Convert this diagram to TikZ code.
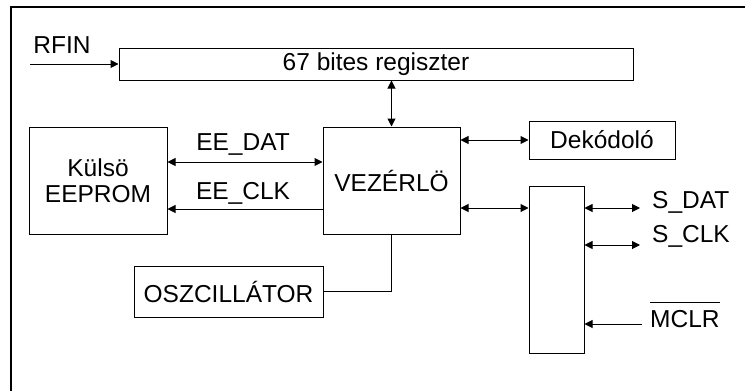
\documentclass[tikz,border=0pt]{standalone}
\usepackage{fontspec}
\setmainfont{Liberation Sans}
\usetikzlibrary{arrows.meta,positioning,calc}

\tikzset{
  box/.style={draw, line width=1pt, inner sep=0pt, align=center},
  arr/.style={line width=1pt, -{Triangle[length=8pt,width=8pt]}},
  dbl/.style={line width=1pt, {Triangle[length=8pt,width=8pt]}-{Triangle[length=8pt,width=8pt]}},
  lbl/.style={inner sep=0pt}
}

\begin{document}
\begin{tikzpicture}[x=1pt, y=-1pt, font=\fontsize{24.5}{28}\selectfont]
      \useasboundingbox (0,0) rectangle (745,391);
      % frame
      \draw[line width=1.2pt] (11,391) -- (11,7) -- (745,7);

      % blocks
      \node[box, minimum width=514pt, minimum height=32pt] (reg) at (376,64) {67 bites regiszter};
      \node[box, minimum width=138pt, minimum height=107pt] (eeprom) at (98,180.5) {Külsö\\[-2pt]EEPROM};
      \node[box, minimum width=137pt, minimum height=107pt] (vez) at (391.5,180.5) {VEZÉRLÖ};
      \node[box, minimum width=146pt, minimum height=38pt] (dek) at (602,140) {Dekódoló};
      \node[box, minimum width=55pt, minimum height=167pt] (port) at (556.5,269.5) {};
      \node[box, minimum width=189pt, minimum height=51pt] (osz) at (228.5,291.5) {OSZCILLÁTOR};

      % labels
      \node[lbl] (rfin) at (62,45) {RFIN};
      \node[lbl] (eedat) at (243,145) {EE\_DAT};
      \node[lbl] (eeclk) at (243,193) {EE\_CLK};
      \node[lbl, anchor=west] (sdat) at (652,202) {S\_DAT};
      \node[lbl, anchor=west] (sclk) at (652,236) {S\_CLK};
      \node[lbl, anchor=base west] (mclr) at (650,327) {$\overline{\rule{0pt}{23pt}\hbox{MCLR}}$};

      % free ends
      \coordinate (rfinstart) at (30,64);
      \coordinate (sdatend) at (640,208);
      \coordinate (sclkend) at (640,245);
      \coordinate (mclrstart) at (642,324);

      % connectors
      \draw[arr] (rfinstart) -- (reg.west);
      \draw[dbl] (reg.south -| vez.north) -- (vez.north);
      \draw[dbl] ([yshift=18.5pt]eeprom.east) -- ([yshift=18.5pt]vez.west);
      \draw[arr] ([yshift=-28.5pt]vez.west) -- ([yshift=-28.5pt]eeprom.east);
      \draw[dbl] (dek.west -| vez.east) -- (dek.west);
      \draw[dbl] ([yshift=-27.5pt]vez.east) coordinate (vp) -- (vp -| port.west);
      \draw[dbl] (port.east |- sdatend) -- (sdatend);
      \draw[dbl] (port.east |- sclkend) -- (sclkend);
      \draw[arr] (mclrstart) -- (port.east |- mclrstart);
      \draw[line width=1pt] (osz.east) -| (vez.south);
    \end{tikzpicture}
\end{document}
